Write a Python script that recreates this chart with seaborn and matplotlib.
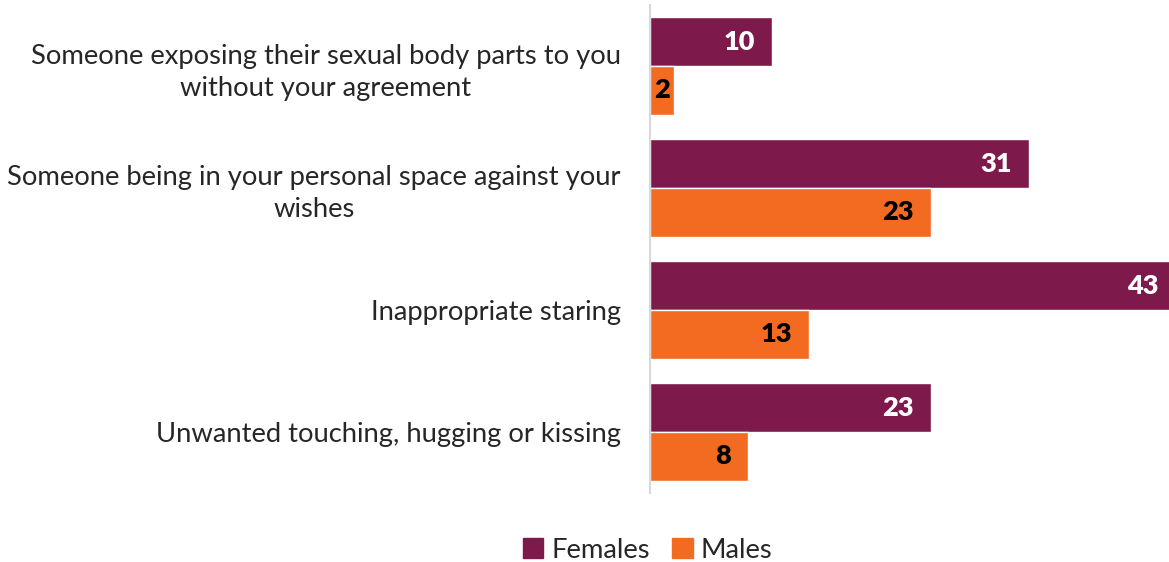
import pandas as pd
import matplotlib.pyplot as plt
import seaborn as sns
from matplotlib.patches import Patch

# ── Data ─────────────────────────────────────────────────────
categories = [
    "Someone exposing their sexual body parts to you\nwithout your agreement",
    "Someone being in your personal space against your\nwishes",
    "Inappropriate staring",
    "Unwanted touching, hugging or kissing",
]
females = [10, 31, 43, 23]
males = [2, 23, 13, 8]
groups = ["Females", "Males"]
colors = ["#7E194B", "#F26B21"]
label_colors = ["white", "black"]

df = pd.DataFrame({
    "category": categories * 2,
    "value": females + males,
    "group": ["Females"] * len(categories) + ["Males"] * len(categories),
})

# ── Style ────────────────────────────────────────────────────
sns.set_theme(style="white")
plt.rcParams["font.family"] = ["Lato", "DejaVu Sans"]

fig = plt.figure(figsize=(11.69, 5.62), dpi=100)
ax = fig.add_axes([0.556, 0.123, 0.444, 0.868])

sns.barplot(data=df, y="category", x="value", hue="group",
            palette=colors, hue_order=groups, order=categories,
            width=0.8, saturation=1, orient="h", ax=ax, legend=False)

ax.set_xlim(0, 42.5)
ax.set_xlabel("")
ax.set_ylabel("")
ax.set_xticks([])
for s in ["top", "right", "bottom"]:
    ax.spines[s].set_visible(False)
ax.spines["left"].set_color("#D9D9D9")
ax.spines["left"].set_linewidth(1.5)
ax.tick_params(axis="y", length=0, pad=21, labelsize=19.7)
for t in ax.get_yticklabels():
    t.set_multialignment("center")
    t.set_linespacing(1.35)

# value labels
for container, tc in zip(ax.containers, label_colors):
    for bar in container:
        w = bar.get_width()
        y = bar.get_y() + bar.get_height() / 2
        if w > 4:
            ax.text(w - 1.4, y, f"{int(w)}", ha="right", va="center",
                    color=tc, fontsize=19.5, fontweight="heavy")
        else:
            ax.text(w / 2, y, f"{int(w)}", ha="center", va="center",
                    color=tc, fontsize=19.5, fontweight="heavy")

handles = [Patch(color=c, label=g) for c, g in zip(colors, groups)]
fig.legend(handles=handles, loc="lower center", bbox_to_anchor=(0.554, -0.045),
           ncol=2, frameon=False, fontsize=19.7, handlelength=0.75, handleheight=0.75,
           handletextpad=0.3, columnspacing=0.8)

plt.savefig("out.png", dpi=100)
